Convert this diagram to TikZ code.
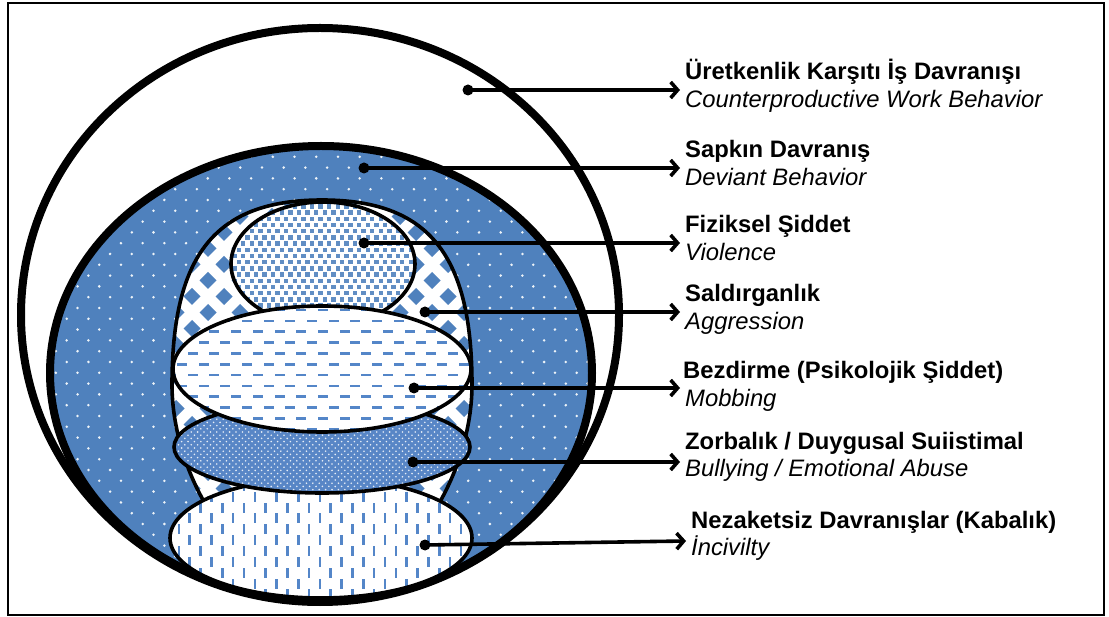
\documentclass[tikz,border=0pt]{standalone}
\usepackage{fontspec}
\setmainfont{Liberation Sans}
\usetikzlibrary{arrows.meta}
\definecolor{ublue}{RGB}{79,129,189}
\definecolor{dblue}{RGB}{84,134,200}
\definecolor{xblue}{RGB}{88,134,198}
\begin{document}
\begin{tikzpicture}[x=1pt,y=-1pt,
  title/.style={font=\bfseries\fontsize{23.8}{28}\selectfont, anchor=base west, inner sep=0pt},
  sub/.style={font=\itshape\fontsize{23.8}{28}\selectfont, anchor=base west, inner sep=0pt},
  thickline/.style={line width=8pt},
  inline/.style={line width=3.6pt},
  dotnode/.style={circle, fill=black, inner sep=0pt, minimum size=11pt},
  conn/.style={line width=3.6pt, -{Straight Barb[length=7pt,width=16pt]}},
]
\useasboundingbox (0,0) rectangle (1109,617);
\draw[line width=1.6pt] (8,3) rectangle (1104,615);

% outer ellipse
\draw[thickline, fill=white] (320,315) ellipse [x radius=299pt, y radius=287pt];

% blue ellipse (deviant behavior)
\fill[ublue] (321,373) ellipse [x radius=271pt, y radius=227pt];
\begin{scope}
\clip (321,373) ellipse [x radius=271pt, y radius=227pt];
\foreach \r in {0,...,43} \foreach \c in {0,...,26}
  \fill[white!90!ublue] ({45+21.7*\c+10.85*mod(\r,2)},{146+10.8*\r}) circle[radius=1.4pt];
\end{scope}
\draw[thickline] (321,373) ellipse [x radius=271pt, y radius=227pt];

% egg (aggression)
\fill[white] (322,200) .. controls (215,200) and (172,255) .. (172,385) .. controls (172,470) and (230,580) .. (322,590) .. controls (414,580) and (472,470) .. (472,385) .. controls (472,255) and (429,200) .. (322,200) -- cycle;
\begin{scope}
\clip (322,200) .. controls (215,200) and (172,255) .. (172,385) .. controls (172,470) and (230,580) .. (322,590) .. controls (414,580) and (472,470) .. (472,385) .. controls (472,255) and (429,200) .. (322,200) -- cycle;
\foreach \r in {0,...,25} \foreach \c in {0,...,10}
  \fill[ublue] ({160+32*\c+16*mod(\r,2)},{192+16*\r}) -- ++(8.5,8.5) -- ++(-8.5,8.5) -- ++(-8.5,-8.5) -- cycle;
\end{scope}
\draw[inline] (322,200) .. controls (215,200) and (172,255) .. (172,385) .. controls (172,470) and (230,580) .. (322,590) .. controls (414,580) and (472,470) .. (472,385) .. controls (472,255) and (429,200) .. (322,200) -- cycle;

% violence ellipse
\fill[white] (323,264) ellipse [x radius=92pt, y radius=62pt];
\begin{scope}
\clip (323,264) ellipse [x radius=92pt, y radius=62pt];
\foreach \r in {0,...,21} \foreach \c in {0,...,22}
  \fill[ublue!90!white] ({228+8.6*\c+4.3*mod(\r,2)},{198+6.2*\r}) rectangle ++(4.4,4.4);
\end{scope}
\draw[inline] (323,264) ellipse [x radius=92pt, y radius=62pt];

% incivility ellipse
\fill[white] (321,538) ellipse [x radius=151pt, y radius=60pt];
\begin{scope}
\clip (321,538) ellipse [x radius=151pt, y radius=60pt];
\foreach \c in {0,...,28} \foreach \r in {0,...,6}
  \fill[dblue] ({166.7+10.85*\c},{470+21.7*\r+10.85*mod(\c,2)}) rectangle ++(2.6,10);
\end{scope}
\draw[inline] (321,538) ellipse [x radius=151pt, y radius=60pt];

% bullying ellipse
\fill[xblue] (322,447) ellipse [x radius=148pt, y radius=46pt];
\begin{scope}
\clip (322,447) ellipse [x radius=148pt, y radius=46pt];
\foreach \r in {0,...,31} \foreach \c in {0,...,46}
  \fill[white!85!xblue] ({172+6.4*\c+3.2*mod(\r,2)},{400+3.2*\r}) circle[radius=0.9pt];
\end{scope}
\draw[inline] (322,447) ellipse [x radius=148pt, y radius=46pt];

% mobbing ellipse
\fill[white] (322,369) ellipse [x radius=149pt, y radius=63pt];
\begin{scope}
\clip (322,369) ellipse [x radius=149pt, y radius=63pt];
\foreach \r in {0,...,12} \foreach \c in {0,...,14}
  \fill[dblue] ({166+21.7*\c+10.85*mod(\r,2)},{308.7+10.85*\r}) rectangle ++(10,2.6);
\end{scope}
\draw[inline] (322,369) ellipse [x radius=149pt, y radius=63pt];

% connectors
\node[dotnode] (d1) at (468,90) {};
\node[dotnode] (d2) at (364,168) {};
\node[dotnode] (d3) at (364,243) {};
\node[dotnode] (d4) at (425,312) {};
\node[dotnode] (d5) at (414,388) {};
\node[dotnode] (d6) at (413,462) {};
\node[dotnode] (d7) at (425,545) {};
\coordinate (e1) at (680,90);
\coordinate (e2) at (680,168);
\coordinate (e3) at (680,243);
\coordinate (e4) at (680,312);
\coordinate (e5) at (680,388);
\coordinate (e6) at (680,462);
\coordinate (e7) at (686,541);
\draw[conn] (d1.center) -- (e1);
\draw[conn] (d2.center) -- (e2);
\draw[conn] (d3.center) -- (e3);
\draw[conn] (d4.center) -- (e4);
\draw[conn] (d5.center) -- (e5);
\draw[conn] (d6.center) -- (e6);
\draw[conn] (d7.center) -- (e7);

% labels
\node[title] (t1) at (685,80) {Üretkenlik Karşıtı İş Davranışı};
\node[sub] (s1) at (685,108) {Counterproductive Work Behavior};
\node[title] (t2) at (685,158) {Sapkın Davranış};
\node[sub] (s2) at (685,186) {Deviant Behavior};
\node[title] (t3) at (685,233) {Fiziksel Şiddet};
\node[sub] (s3) at (685,261) {Violence};
\node[title] (t4) at (685,302) {Saldırganlık};
\node[sub] (s4) at (685,330) {Aggression};
\node[title] (t5) at (683,379) {Bezdirme (Psikolojik Şiddet)};
\node[sub] (s5) at (685,407) {Mobbing};
\node[title] (t6) at (685,450) {Zorbalık / Duygusal Suiistimal};
\node[sub] (s6) at (685,477) {Bullying / Emotional Abuse};
\node[title] (t7) at (691,528) {Nezaketsiz Davranışlar (Kabalık)};
\node[sub] (s7) at (691,555) {İncivilty};
\end{tikzpicture}
\end{document}
